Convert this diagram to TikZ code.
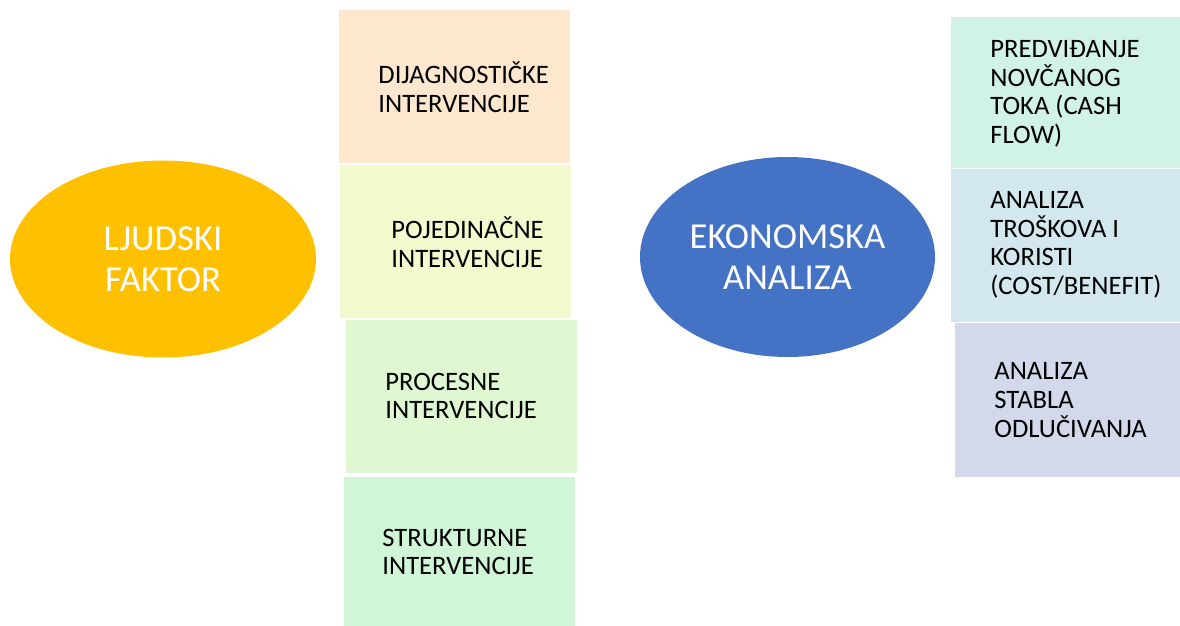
\documentclass[tikz,border=0pt]{standalone}
\usepackage{fontspec}
\setmainfont{Carlito}
\usetikzlibrary{shapes.geometric}

\definecolor{zuta}{HTML}{FFC000}
\definecolor{plava}{HTML}{4472C4}
\definecolor{breskva}{HTML}{FDE7CF}
\definecolor{limun}{HTML}{F3FACD}
\definecolor{svijetlozel}{HTML}{DFF8D2}
\definecolor{mentazel}{HTML}{D1F5D7}
\definecolor{menta}{HTML}{D1F2E6}
\definecolor{nebo}{HTML}{D2E8EE}
\definecolor{lavanda}{HTML}{D3D8EB}

\tikzset{
  oval/.style={ellipse, inner sep=0pt, text=white, align=center,
    font=\fontsize{18.3pt}{20.5pt}\selectfont},
  tekst/.style={anchor=west, align=left, inner sep=0pt,
    font=\fontsize{13.3pt}{14.3pt}\selectfont}
}

\begin{document}
\begin{tikzpicture}[x=0.5pt,y=-0.5pt]
%\draw [lightgray](0,0) grid (1180,626);
\useasboundingbox (0,0) rectangle (1180,626);

\node [oval, fill=zuta, minimum width=153pt, minimum height=98.5pt] (ljudski) at (163,259) {LJUDSKI\\FAKTOR}; % ljudski faktor

\fill [breskva](339,10) rectangle (570,163); % dijagnosticke
\node [tekst] (dijag) at (378,87) {DIJAGNOSTIČKE\\INTERVENCIJE};

\fill [limun](340,165) rectangle (571,318); % pojedinacne
\node [tekst] (pojed) at (391,242) {POJEDINAČNE\\INTERVENCIJE};

\fill [svijetlozel](346,320) rectangle (577,473); % procesne
\node [tekst] (proces) at (385,396) {PROCESNE\\INTERVENCIJE};

\fill [mentazel](344,477) rectangle (575,626); % strukturne
\node [tekst] (strukt) at (382,552) {STRUKTURNE\\INTERVENCIJE};

\node [oval, fill=plava, minimum width=147.5pt, minimum height=100pt] (ekonom) at (787.5,257) {EKONOMSKA\\ANALIZA}; % ekonomska analiza

\fill [menta](951,17) rectangle (1180,168); % cash flow
\node [tekst] (cash) at (990,94) {PREDVIĐANJE\\NOVČANOG\\TOKA (CASH\\FLOW)};

\fill [nebo](951,169) rectangle (1180,322); % cost/benefit
\node [tekst] (trosak) at (990,245) {ANALIZA\\TROŠKOVA I\\KORISTI\\(COST/BENEFIT)};

\fill [lavanda](955,323) rectangle (1180,477); % stablo odlucivanja
\node [tekst] (stablo) at (994,400) {ANALIZA\\STABLA\\ODLUČIVANJA};

\end{tikzpicture}
\end{document}
